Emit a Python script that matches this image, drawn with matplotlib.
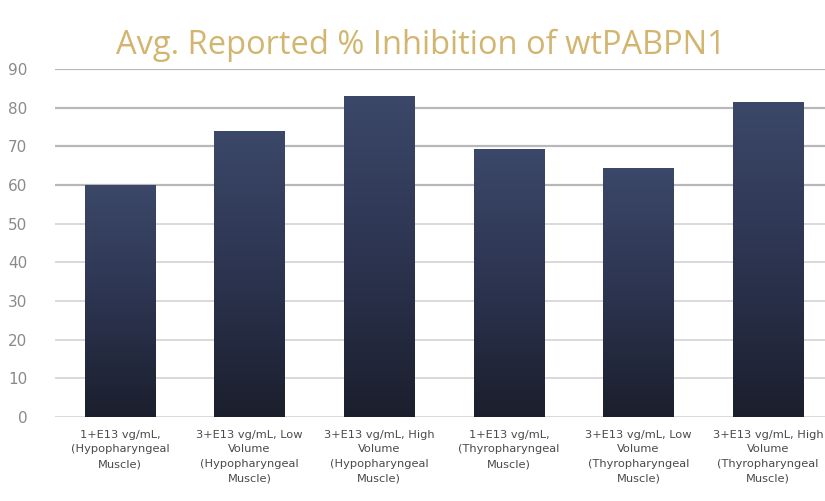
import numpy as np
import matplotlib.pyplot as plt
from matplotlib.colors import LinearSegmentedColormap

# bar data
categories = [
    "1+E13 vg/mL,\n(Hypopharyngeal\nMuscle)",
    "3+E13 vg/mL, Low\nVolume\n(Hypopharyngeal\nMuscle)",
    "3+E13 vg/mL, High\nVolume\n(Hypopharyngeal\nMuscle)",
    "1+E13 vg/mL,\n(Thyropharyngeal\nMuscle)",
    "3+E13 vg/mL, Low\nVolume\n(Thyropharyngeal\nMuscle)",
    "3+E13 vg/mL, High\nVolume\n(Thyropharyngeal\nMuscle)",
]
inhibition = [60, 74, 83, 69.4, 64.5, 81.4]
y_ticks = [0, 10, 20, 30, 40, 50, 60, 70, 80, 90]

title = "Avg. Reported % Inhibition of wtPABPN1"

fig = plt.figure(figsize=(8.25, 5.01), dpi=100)
# right edge runs a little past the figure, the chart is cut off there
ax = fig.add_axes([55 / 825, 84 / 501, 778 / 825, 348 / 501])

x = np.arange(len(categories))
width = 0.54
bars = ax.bar(x, inhibition, width=width, color="#262d42", zorder=2)

# vertical navy gradient inside each bar
grad = LinearSegmentedColormap.from_list("navy", ["#1b1f2d", "#2c3450", "#3c4869"])
g = np.linspace(0, 1, 256).reshape(-1, 1)
for b in bars:
    x0, h = b.get_x(), b.get_height()
    im = ax.imshow(g, cmap=grad, origin="lower", aspect="auto",
                   extent=(x0, x0 + b.get_width(), 0, h), zorder=3)
    im.set_clip_path(b)

ax.set_xlim(-0.5, len(categories) - 0.5)
ax.set_ylim(0, 90)
ax.set_yticks(y_ticks)
ax.yaxis.grid(True, color="#b8b8b8", linewidth=1.6, zorder=0)
# upper grid lines are heavier than the lower ones
for val, gl in zip(y_ticks, ax.get_ygridlines()):
    if val < 60:
        gl.set_color("#cfcfcf")
        gl.set_linewidth(1.1)
ax.set_axisbelow(True)
for s in ax.spines.values():
    s.set_visible(False)
ax.tick_params(axis="y", length=0, pad=20, labelsize=11, labelcolor="#8a8a8a")
ax.tick_params(axis="x", length=0, pad=9)
ax.set_xticks(x)
ax.set_xticklabels(categories, fontsize=8.2, color="#4a4a4a", linespacing=1.6)

fig.text(0.51, 0.91, title, ha="center", va="center", fontsize=23.5,
         color="#d2b56f", family="Open Sans")

fig.savefig("out.png", dpi=100)
